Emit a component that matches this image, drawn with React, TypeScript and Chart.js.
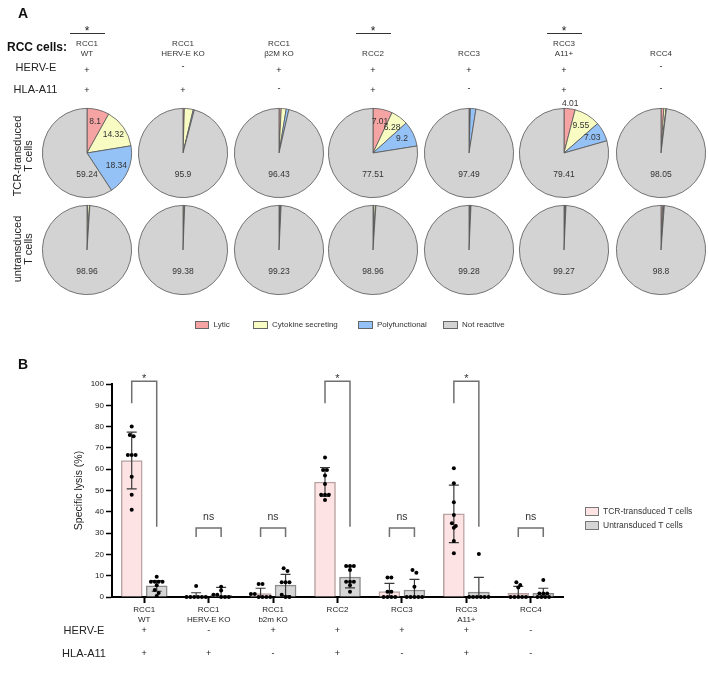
import React, { useEffect, useRef } from "react";
import { Chart, registerables } from "chart.js";
Chart.register(...registerables);

const FONT = "'Liberation Sans', Arial, Helvetica, sans-serif";
Chart.defaults.font.family = FONT;

// ---------------- Panel A data ----------------
const cellLineLabels: string[][] = [["RCC1", "WT"], ["RCC1", "HERV-E KO"], ["RCC1", "β2M KO"], ["RCC2"], ["RCC3"], ["RCC3", "A11+"], ["RCC4"]];
const hervEStatus = ["+", "-", "+", "+", "+", "+", "-"];
const hlaA11Status = ["+", "+", "-", "+", "-", "+", "-"];
const significantA = [true, false, false, true, false, true, false];
const pieFullLabels = [true, false, false, true, false, true, false];
const sliceNames = ["Lytic", "Cytokine secreting", "Polyfunctional", "Not reactive"];
const sliceColors = ["#f5a3a3", "#f8fcc2", "#94c2f7", "#d3d3d3"];
const rowLabels = [["TCR-transduced", "T cells"], ["untransduced", "T cells"]];

const tcrLytic = [8.1, 0.5, 0.8, 7.01, 0.3, 4.01, 1.0];
const tcrCytokine = [14.32, 3.2, 1.8, 6.28, 0.2, 9.55, 0.8];
const tcrPoly = [18.34, 0.4, 0.97, 9.2, 2.0, 7.03, 0.15];
const tcrNotReactive = [59.24, 95.9, 96.43, 77.51, 97.49, 79.41, 98.05];

const untLytic = [0.2, 0.1, 0.3, 0.3, 0.2, 0.2, 0.6];
const untCytokine = [0.7, 0.4, 0.2, 0.6, 0.4, 0.4, 0.4];
const untPoly = [0.14, 0.12, 0.27, 0.14, 0.12, 0.13, 0.2];
const untNotReactive = [98.96, 99.38, 99.23, 98.96, 99.28, 99.27, 98.8];

// ---------------- Panel B data ----------------
const groupLabels: (string | string[])[] = [["RCC1", "WT"], ["RCC1", "HERV-E KO"], ["RCC1", "b2m KO"], "RCC2", "RCC3", ["RCC3", "A11+"], "RCC4"];
const seriesNames = ["TCR-transduced T cells", "Untransduced T cells"];
const tcrMean = [64.1, 0.6, 1.6, 54, 2.5, 39, 1.7];
const tcrSD = [13.3, 1.4, 2.5, 6.8, 3.9, 13.5, 3.3];
const untMean = [5.2, 0.8, 5.6, 9.3, 3.3, 2.3, 1.7];
const untSD = [2.5, 3.7, 5.0, 5.0, 5.0, 6.9, 2.4];
const tcrDots = [
  [80, 76, 75.5, 66.7, 66.7, 66.7, 56.5, 48, 41],
  [5.2, 0, 0, 0, 0, 0, 0],
  [6.1, 6.1, 1.4, 1.4, 0, 0, 0, 0],
  [65.5, 59.6, 59.6, 57, 53, 48, 48, 48, 45.5],
  [9.2, 9.2, 2.5, 2.5, 0, 0, 0, 0],
  [60.4, 53.4, 44.5, 38.5, 34.6, 33.3, 32.5, 26.3, 20.5],
  [6.9, 5.6, 4.5, 0, 0, 0, 0, 0],
];
const untDots = [
  [9.5, 7.2, 7.2, 7.2, 7.2, 5.5, 3.3, 1.9, 0.5],
  [4.8, 3.0, 1.0, 1.0, 0, 0, 0],
  [13.5, 12.2, 6.9, 6.9, 6.9, 1.0, 0, 0],
  [14.5, 14.5, 14.5, 12.7, 7.2, 7.2, 7.2, 5.5, 2.5],
  [12.7, 11.4, 4.8, 0, 0, 0, 0, 0],
  [20.2, 0, 0, 0, 0, 0, 0],
  [8.0, 1.7, 1.7, 1.7, 0, 0, 0, 0],
];
const significanceB = ["*", "ns", "ns", "*", "ns", "*", "ns"];
const yMax = 100;
const yStep = 10;

// ---------------- layout ----------------
const PIE_X = [87, 183, 279, 373, 469, 564, 661];
const PIE_Y = [152.5, 250];
const PIE_BOX = 110;
const B_TOP = 370;
const B_H = 309;
const PAIR_OFFSET = 0.194;
const BAR_THICKNESS = 21;
const DOT_SPREAD = 0.06;

function spreadDots(values: number[], center: number) {
  const res: { x: number; y: number }[] = [];
  const used = new Array(values.length).fill(false);
  for (let i = 0; i < values.length; i++) {
    if (used[i]) continue;
    const cl = [i];
    used[i] = true;
    for (let j = i + 1; j < values.length; j++) {
      if (!used[j] && Math.abs(values[j] - values[i]) < 1.6) {
        cl.push(j);
        used[j] = true;
      }
    }
    cl.forEach((k, n) => res.push({ x: center + (n - (cl.length - 1) / 2) * DOT_SPREAD, y: values[k] }));
  }
  return res;
}

function makePieLabelPlugin(showAll: boolean) {
  return {
    id: "pieLabels",
    afterDatasetsDraw(chart: any) {
      const meta = chart.getDatasetMeta(0);
      const data = chart.data.datasets[0].data as number[];
      const ctx = chart.ctx;
      ctx.save();
      ctx.font = `8.5px ${FONT}`;
      ctx.fillStyle = "#333";
      ctx.textAlign = "center";
      ctx.textBaseline = "middle";
      meta.data.forEach((arc: any, i: number) => {
        const v = data[i];
        const isRest = i === data.length - 1;
        if (!isRest && !showAll) return;
        const p = arc.getProps(["x", "y", "startAngle", "endAngle", "outerRadius"], true);
        let px: number, py: number;
        if (isRest) {
          px = p.x;
          py = p.y + p.outerRadius * 0.49;
        } else {
          const mid = (p.startAngle + p.endAngle) / 2;
          const r = v < 5 ? p.outerRadius + 5 : p.outerRadius * 0.72;
          px = p.x + Math.cos(mid) * r;
          py = p.y + Math.sin(mid) * r;
        }
        ctx.fillText(String(v), px, py);
      });
      ctx.restore();
    },
  };
}

const panelBPlugin = {
  id: "panelB",
  afterDatasetDraw(chart: any, args: any) {
    if (args.index > 1) return;
    const mean = args.index === 0 ? tcrMean : untMean;
    const sd = args.index === 0 ? tcrSD : untSD;
    const y = chart.scales.y;
    const ctx = chart.ctx;
    ctx.save();
    ctx.strokeStyle = "#3a3a3a";
    ctx.lineWidth = 1.2;
    args.meta.data.forEach((bar: any, i: number) => {
      const x = bar.x;
      const top = y.getPixelForValue(mean[i] + sd[i]);
      const low = mean[i] - sd[i];
      const bot = y.getPixelForValue(Math.max(0, low));
      ctx.beginPath();
      ctx.moveTo(x, top);
      ctx.lineTo(x, bot);
      ctx.moveTo(x - 5, top);
      ctx.lineTo(x + 5, top);
      if (low > 0) {
        ctx.moveTo(x - 5, bot);
        ctx.lineTo(x + 5, bot);
      }
      ctx.stroke();
    });
    ctx.restore();
  },
  afterDraw(chart: any) {
    const ctx = chart.ctx;
    const y = chart.scales.y;
    const x = chart.scales.x;
    const m0 = chart.getDatasetMeta(0).data;
    const m1 = chart.getDatasetMeta(1).data;
    ctx.save();
    significanceB.forEach((s, i) => {
      const xl = m0[i].x;
      const xr = m1[i].x;
      ctx.strokeStyle = "#707070";
      ctx.lineWidth = 1.5;
      ctx.beginPath();
      if (s === "*") {
        const t = y.getPixelForValue(101.3);
        ctx.moveTo(xl, y.getPixelForValue(91));
        ctx.lineTo(xl, t);
        ctx.lineTo(xr, t);
        ctx.lineTo(xr, y.getPixelForValue(33));
        ctx.stroke();
        ctx.fillStyle = "#333";
        ctx.font = `11px ${FONT}`;
        ctx.textAlign = "center";
        ctx.textBaseline = "alphabetic";
        ctx.fillText("*", (xl + xr) / 2, t + 1);
      } else {
        const t = y.getPixelForValue(32.4);
        const b = y.getPixelForValue(28.2);
        ctx.moveTo(xl, b);
        ctx.lineTo(xl, t);
        ctx.lineTo(xr, t);
        ctx.lineTo(xr, b);
        ctx.stroke();
        ctx.fillStyle = "#333";
        ctx.font = `10.5px ${FONT}`;
        ctx.textAlign = "center";
        ctx.textBaseline = "middle";
        ctx.fillText("ns", (xl + xr) / 2, t - 11);
      }
    });
    [chart.data.datasets[0], chart.data.datasets[1]].forEach((ds: any, k: number) => {
      const by = 137 + k * 14;
      ctx.fillStyle = ds.backgroundColor;
      ctx.fillRect(585, by, 14, 9);
      ctx.strokeStyle = "#777";
      ctx.lineWidth = 1;
      ctx.strokeRect(585.5, by + 0.5, 13, 8);
      ctx.fillStyle = "#333";
      ctx.font = `8.5px ${FONT}`;
      ctx.textAlign = "left";
      ctx.textBaseline = "middle";
      ctx.fillText(seriesNames[k], 603, by + 4.5);
    });
    const rows: [string, string[], number][] = [["HERV-E", hervEStatus, 261], ["HLA-A11", hlaA11Status, 284]];
    rows.forEach(([name, signs, ry]) => {
      ctx.fillStyle = "#222";
      ctx.font = `11px ${FONT}`;
      ctx.textAlign = "center";
      ctx.textBaseline = "middle";
      ctx.fillText(name, 84, ry);
      ctx.font = `9px ${FONT}`;
      signs.forEach((s, i) => ctx.fillText(s, x.getPixelForValue(i), ry));
    });
    ctx.restore();
  },
};

const txt = (cx: number, cy: number, size: number, lh: number, extra: React.CSSProperties = {}): React.CSSProperties => ({
  position: "absolute",
  left: cx - 80,
  width: 160,
  top: cy - lh / 2,
  fontSize: size,
  lineHeight: `${lh}px`,
  textAlign: "center",
  whiteSpace: "nowrap",
  ...extra,
});

export default function App() {
  const pieRefs = useRef<(HTMLCanvasElement | null)[]>([]);
  const barRef = useRef<HTMLCanvasElement | null>(null);

  useEffect(() => {
    const charts: Chart[] = [];
    const rows = [
      [tcrLytic, tcrCytokine, tcrPoly, tcrNotReactive],
      [untLytic, untCytokine, untPoly, untNotReactive],
    ];
    rows.forEach((series, r) => {
      for (let c = 0; c < PIE_X.length; c++) {
        const cv = pieRefs.current[r * PIE_X.length + c];
        if (!cv) continue;
        const data = series.map((s) => s[c]);
        charts.push(
          new Chart(cv, {
            type: "pie",
            data: {
              labels: sliceNames,
              datasets: [{ data, backgroundColor: sliceColors, borderColor: "#555", borderWidth: 0.8 }],
            },
            options: {
              responsive: false,
              animation: false,
              events: [],
              layout: { padding: 10 },
              plugins: { legend: { display: false }, tooltip: { enabled: false } },
            },
            plugins: [makePieLabelPlugin(r === 0 && pieFullLabels[c])],
          } as any)
        );
      }
    });

    if (barRef.current) {
      charts.push(
        new Chart(barRef.current, {
          type: "bar",
          data: {
            datasets: [
              { type: "bar", label: seriesNames[0], data: tcrMean.map((v, i) => ({ x: i - PAIR_OFFSET, y: v })), backgroundColor: "#fde3e3", borderColor: "#b9a3a3", borderWidth: 1.5, grouped: false, barThickness: BAR_THICKNESS, order: 2 },
              { type: "bar", label: seriesNames[1], data: untMean.map((v, i) => ({ x: i + PAIR_OFFSET, y: v })), backgroundColor: "#d6d6d6", borderColor: "#8c8c8c", borderWidth: 1.5, grouped: false, barThickness: BAR_THICKNESS, order: 2 },
              { type: "scatter", data: tcrDots.flatMap((v, i) => spreadDots(v, i - PAIR_OFFSET)), pointRadius: 2, pointBackgroundColor: "#000", pointBorderWidth: 0, clip: false, order: 1 },
              { type: "scatter", data: untDots.flatMap((v, i) => spreadDots(v, i + PAIR_OFFSET)), pointRadius: 2, pointBackgroundColor: "#000", pointBorderWidth: 0, clip: false, order: 1 },
            ],
          },
          options: {
            responsive: false,
            animation: false,
            events: [],
            layout: { padding: { left: 73, right: 145, top: 14, bottom: 52 } },
            plugins: { legend: { display: false }, tooltip: { enabled: false } },
            scales: {
              x: {
                type: "linear",
                min: -0.5,
                max: 6.5,
                offset: false,
                afterBuildTicks: (s: any) => { s.ticks = groupLabels.map((_, i) => ({ value: i })); },
                grid: { display: true, offset: false, drawOnChartArea: false, drawTicks: true, tickLength: 6, tickWidth: 2, tickColor: "#000" },
                border: { display: true, color: "#000", width: 2 },
                ticks: { callback: (v: any) => groupLabels[Math.round(v)], font: { family: FONT, size: 8 }, color: "#222", padding: 2, maxRotation: 0, autoSkip: false },
                afterFit: (s: any) => { s.height = 30; },
              },
              y: {
                min: 0,
                max: yMax,
                ticks: { stepSize: yStep, font: { family: FONT, size: 8 }, color: "#222", padding: 2 },
                grid: { display: true, drawOnChartArea: false, drawTicks: true, tickLength: 6, tickWidth: 1.5, tickColor: "#000" },
                border: { display: true, color: "#000", width: 2 },
                title: { display: true, text: "Specific lysis (%)", font: { family: FONT, size: 10.5 }, color: "#222", padding: 0 },
                afterFit: (s: any) => { s.width = 39; },
              },
            },
          },
          plugins: [panelBPlugin],
        } as any)
      );
    }
    return () => charts.forEach((ch) => ch.destroy());
  }, []);

  const pieCanvases: React.ReactNode[] = [];
  PIE_Y.forEach((cy, r) =>
    PIE_X.forEach((cx, c) => {
      const idx = r * PIE_X.length + c;
      pieCanvases.push(
        <canvas
          key={`pie-${idx}`}
          ref={(el) => { pieRefs.current[idx] = el; }}
          width={PIE_BOX}
          height={PIE_BOX}
          style={{ position: "absolute", left: cx - PIE_BOX / 2, top: cy - PIE_BOX / 2, width: PIE_BOX, height: PIE_BOX, display: "block" }}
        />
      );
    })
  );

  const legendX = [194.5, 253, 358, 443];

  return (
    <div style={{ position: "absolute", left: 0, top: 0, width: 708, height: 679, overflow: "hidden", fontFamily: FONT, color: "#222", background: "#fff" }}>
      {pieCanvases}
      <canvas
        ref={barRef}
        width={708}
        height={B_H}
        style={{ position: "absolute", left: 0, top: B_TOP, width: 708, height: B_H, display: "block" }}
      />
      <div style={{ position: "absolute", left: 0, top: 0, width: 708, height: 679, willChange: "transform", pointerEvents: "none" }}>
        <div style={txt(23, 13, 14, 16, { fontWeight: "bold", color: "#111" })}>A</div>
        <div style={txt(23, 364, 14, 16, { fontWeight: "bold", color: "#111" })}>B</div>

        <div style={txt(37, 47, 12, 14, { fontWeight: "bold", color: "#111" })}>RCC cells:</div>
        <div style={txt(36, 67.5, 11, 13)}>HERV-E</div>
        <div style={txt(35.5, 89.5, 11, 13)}>HLA-A11</div>

        {PIE_X.map((cx, c) => (
          <React.Fragment key={`col-${c}`}>
            {significantA[c] && (
              <>
                <div style={txt(cx, 30.5, 12, 12)}>*</div>
                <div style={{ position: "absolute", left: cx - 17.5, top: 33, width: 35, height: 1, background: "#333" }} />
              </>
            )}
            <div style={{ position: "absolute", left: cx - 80, width: 160, top: 58.5 - cellLineLabels[c].length * 10, fontSize: 8, lineHeight: "10px", textAlign: "center", whiteSpace: "nowrap", color: "#333" }}>
              {cellLineLabels[c].map((l, k) => (
                <div key={k}>{l}</div>
              ))}
            </div>
            <div style={txt(cx, hervEStatus[c] === "-" ? 66 : 70, 9, 11)}>{hervEStatus[c]}</div>
            <div style={txt(cx, hlaA11Status[c] === "-" ? 88 : 90.5, 9, 11)}>{hlaA11Status[c]}</div>
          </React.Fragment>
        ))}

        {rowLabels.map((lines, r) => (
          <div key={`row-${r}`} style={{ position: "absolute", left: 22.5 - 60, width: 120, top: (r === 0 ? 156 : 249) - 11, fontSize: 11, lineHeight: "11px", textAlign: "center", whiteSpace: "nowrap", transform: "rotate(-90deg)" }}>
            {lines.map((l, k) => (
              <div key={k}>{l}</div>
            ))}
          </div>
        ))}

        {sliceNames.map((n, k) => (
          <React.Fragment key={`leg-${k}`}>
            <div style={{ position: "absolute", left: legendX[k], top: 320.5, width: 14.5, height: 8.5, boxSizing: "border-box", background: sliceColors[k], border: "1px solid #666" }} />
            <div style={{ position: "absolute", left: legendX[k] + 19, top: 320, lineHeight: "10px", fontSize: 8, whiteSpace: "nowrap", color: "#333" }}>{n}</div>
          </React.Fragment>
        ))}
      </div>
    </div>
  );
}
